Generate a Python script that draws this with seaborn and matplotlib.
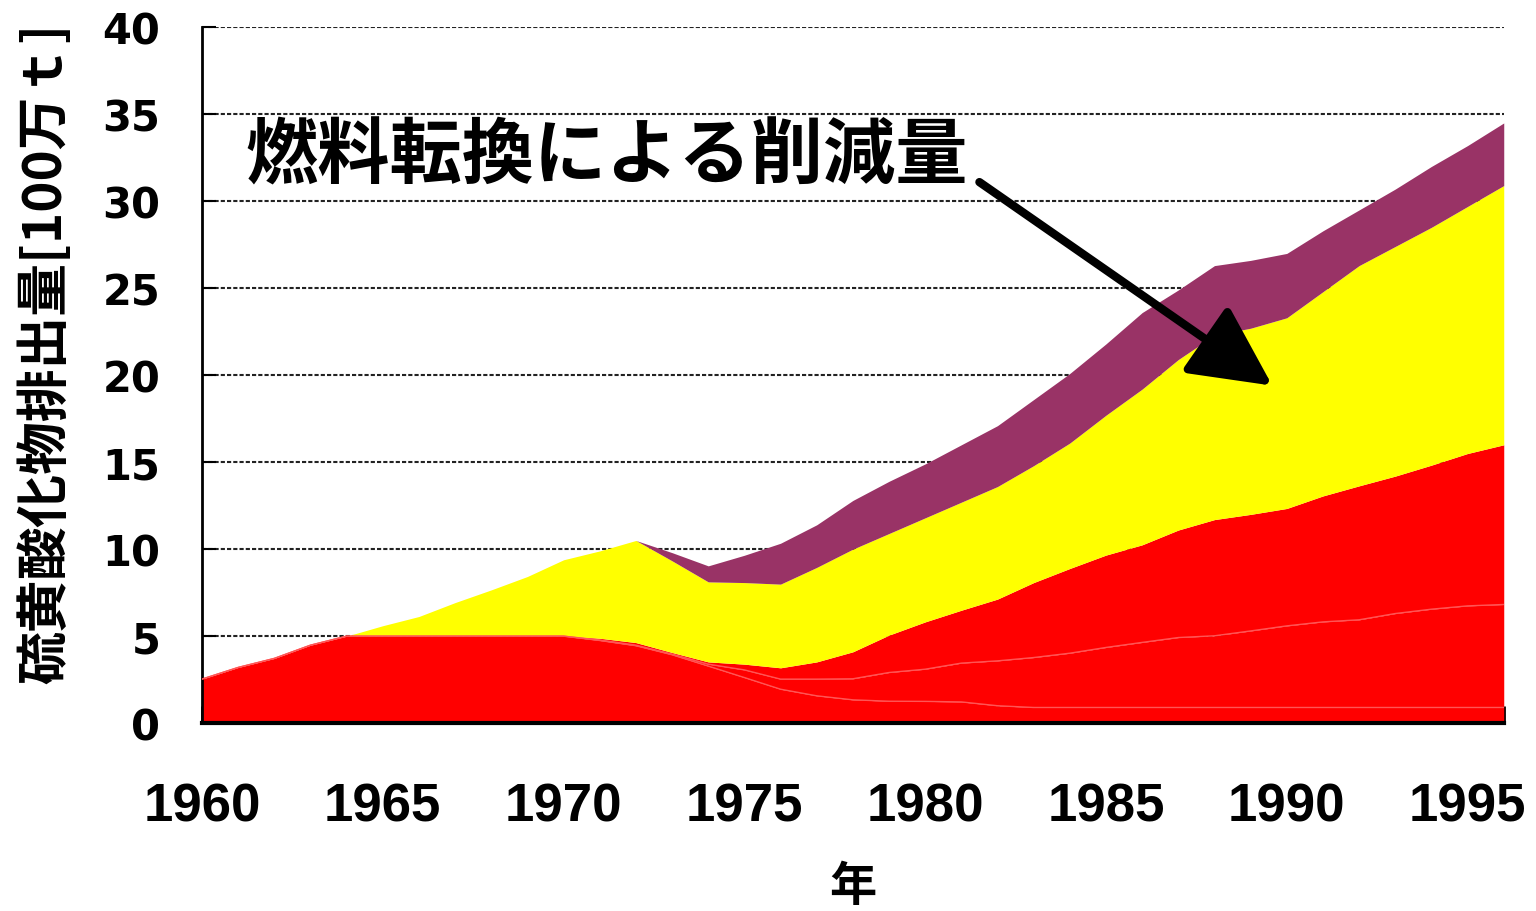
import matplotlib
matplotlib.use("Agg")
import matplotlib.pyplot as plt
import seaborn as sns
import numpy as np

# Data (cumulative boundaries, 100万t)
years = list(range(1960, 1997))

# lowest red band top
red_a_top = [2.53, 3.2, 3.72, 4.48, 5.0, 5.0, 5.0, 5.0, 5.0, 5.0, 5.0,
             4.75, 4.45, 3.93, 3.28, 2.62, 1.95, 1.57, 1.34, 1.26, 1.25,
             1.22, 1.0, 0.9, 0.9, 0.9, 0.9, 0.9, 0.9, 0.9, 0.9,
             0.9, 0.9, 0.9, 0.9, 0.9, 0.9]
# middle red band top
red_b_top = [2.53, 3.2, 3.72, 4.48, 5.0, 5.0, 5.0, 5.0, 5.0, 5.0, 5.0,
             4.78, 4.48, 3.97, 3.39, 3.06, 2.53, 2.53, 2.55, 2.91, 3.1,
             3.45, 3.58, 3.77, 4.02, 4.35, 4.64, 4.92, 5.02, 5.3, 5.59,
             5.82, 5.94, 6.3, 6.55, 6.74, 6.82]
# upper red band top
red_c_top = [2.53, 3.2, 3.72, 4.48, 5.0, 5.0, 5.0, 5.0, 5.0, 5.0, 5.0,
             4.88, 4.63, 4.06, 3.52, 3.39, 3.18, 3.52, 4.1, 5.06, 5.82,
             6.49, 7.13, 8.08, 8.89, 9.66, 10.25, 11.1, 11.7, 12.0, 12.34,
             13.06, 13.64, 14.2, 14.83, 15.5, 16.0]
# yellow band top (fuel switching)
yellow_top = [2.53, 3.2, 3.72, 4.48, 5.0, 5.6, 6.13, 6.93, 7.66, 8.43, 9.39,
              9.9, 10.5, 9.33, 8.12, 8.08, 7.99, 8.95, 10.0, 10.9, 11.8,
              12.7, 13.6, 14.8, 16.1, 17.7, 19.2, 20.9, 22.3, 22.7, 23.3,
              24.8, 26.3, 27.4, 28.5, 29.7, 30.9]
# purple band top (total)
purple_top = [2.53, 3.2, 3.72, 4.48, 5.0, 5.6, 6.13, 6.93, 7.66, 8.43, 9.39,
              9.9, 10.5, 9.8, 9.04, 9.65, 10.34, 11.4, 12.8, 13.9, 14.9,
              16.0, 17.1, 18.6, 20.1, 21.8, 23.6, 24.9, 26.3, 26.6, 27.0,
              28.3, 29.5, 30.7, 32.0, 33.2, 34.5]

x_ticklabels = ["1960", "1965", "1970", "1975", "1980", "1985", "1990", "1995"]

sns.set_theme(style="white")
plt.rcParams['font.family'] = ['Noto Sans CJK JP', 'DejaVu Sans']
plt.rcParams['text.color'] = 'black'
plt.rcParams['axes.labelcolor'] = 'black'
plt.rcParams['xtick.color'] = 'black'
plt.rcParams['ytick.color'] = 'black'

fig = plt.figure(figsize=(15.36, 9.12), dpi=100)
ax = fig.add_axes([0.1315, 0.206, 0.8475, 0.763])

zero = np.zeros(len(years))
red = "#FF0000"
ax.fill_between(years, zero, red_a_top, color=red, lw=0, zorder=2)
ax.fill_between(years, red_a_top, red_b_top, color=red, lw=0, zorder=2)
ax.fill_between(years, red_b_top, red_c_top, color=red, lw=0, zorder=2)
ax.fill_between(years, red_c_top, yellow_top, color="#FFFF00", lw=0, zorder=2)
ax.fill_between(years, yellow_top, purple_top, color="#993366", lw=0, zorder=2)

# faint separation lines between the red bands
for top in [red_a_top, red_b_top]:
    sns.lineplot(x=years, y=top, ax=ax, color="#FF5555", lw=1, zorder=3)

ax.set_xlim(1960, 1996)
ax.set_ylim(0, 40)

ax.set_yticks(range(0, 41, 5))
ax.yaxis.grid(True, color="#222222", linestyle=(0, (2, 1)), lw=1.5, zorder=1)
ax.set_axisbelow(True)

ax.set_xticks(years, minor=True)
ax.set_xticks(range(1960, 1996, 5))
ax.set_xticklabels(x_ticklabels, fontfamily=['Liberation Sans', 'DejaVu Sans'],
                   fontweight='bold', fontsize=38)
ax.tick_params(axis='x', which='both', direction='in', length=12, width=2,
               color='black', pad=42, bottom=True)
ax.tick_params(axis='y', direction='in', length=10, width=1.5, color='black',
               pad=30, left=True)
for lab in ax.get_yticklabels():
    lab.set_fontfamily(['DejaVu Sans'])
    lab.set_fontweight('bold')
    lab.set_fontsize(30)

for side in ['top', 'right']:
    ax.spines[side].set_visible(False)
ax.spines['left'].set_color('black')
ax.spines['left'].set_linewidth(2)
ax.spines['bottom'].set_color('black')
ax.spines['bottom'].set_linewidth(3)

ax.set_xlabel("年", fontsize=34, fontweight='bold', labelpad=22)
fig.text(45 / 1536, (912 - 684) / 912, "硫黄酸化物排出量[100万ｔ]", rotation=90,
         ha='center', va='bottom', fontsize=38, fontweight='bold')

ax.text(1961.19, 32.6, "燃料転換による削減量", fontsize=52, fontweight='bold',
        ha='left', va='center', zorder=5)
ax.annotate("", xy=(1989.6, 19.4), xytext=(1981.5, 31.1),
            arrowprops=dict(arrowstyle="-|>,head_length=1.0,head_width=0.5",
                            mutation_scale=50, lw=6, color='black',
                            shrinkA=0, shrinkB=0),
            zorder=5)

fig.savefig("out.png", dpi=100)
